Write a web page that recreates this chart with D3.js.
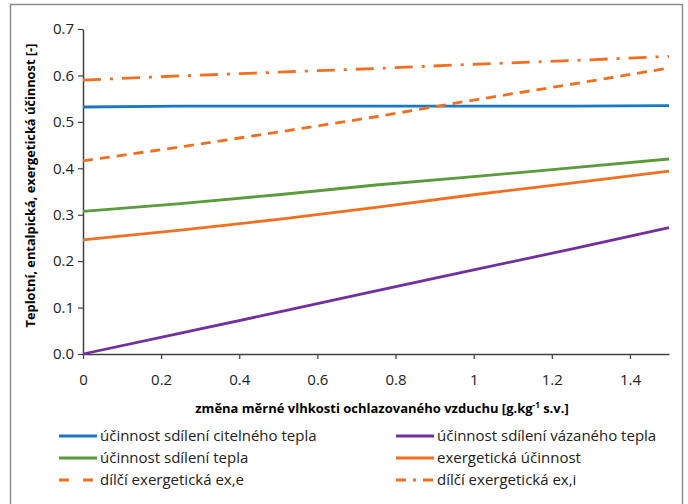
<!DOCTYPE html>
<html>
<head>
<meta charset="utf-8">
<script src="https://cdn.jsdelivr.net/npm/d3@7.9.0/dist/d3.min.js"></script>
<style>
  body { margin: 0; background: #fff; }
  svg { display: block; }
</style>
</head>
<body>
<svg id="chart" width="688" height="504"></svg>
<script>
// data
const xValues = [0, 0.25, 0.5, 0.75, 1.0, 1.25, 1.5];
const citelne = [0.532, 0.534, 0.534, 0.534, 0.534, 0.534, 0.535];
const vazane = [0.000, 0.045, 0.090, 0.136, 0.181, 0.226, 0.272];
const sdileniTepla = [0.307, 0.324, 0.343, 0.364, 0.382, 0.401, 0.420];
const exergeticka = [0.246, 0.267, 0.290, 0.316, 0.343, 0.368, 0.394];
const dilciExE = [0.416, 0.446, 0.478, 0.511, 0.547, 0.581, 0.616];
const dilciExI = [0.590, 0.599, 0.607, 0.615, 0.624, 0.632, 0.641];
const xTicks = [0, 0.2, 0.4, 0.6, 0.8, 1, 1.2, 1.4];
const yTicks = [0, 0.1, 0.2, 0.3, 0.4, 0.5, 0.6, 0.7];

const series = [
  { name: "účinnost sdílení citelného tepla", values: citelne, color: "#1a78c2", dash: null },
  { name: "účinnost sdílení vázaného tepla", values: vazane, color: "#7030a0", dash: null },
  { name: "účinnost sdílení tepla", values: sdileniTepla, color: "#5b9b3e", dash: null },
  { name: "exergetická účinnost", values: exergeticka, color: "#f26f21", dash: null },
  { name: "dílčí exergetická ex,e", values: dilciExE, color: "#f26f21", dash: "10,7" },
  { name: "dílčí exergetická ex,i", values: dilciExI, color: "#f26f21", dash: "18,9,3,9" }
];

const font = "'Open Sans', 'Noto Sans', sans-serif";
const svg = d3.select("#chart");

// outer frame
svg.append("rect")
  .attr("x", 10.5).attr("y", 4.5)
  .attr("width", 672).attr("height", 510)
  .attr("fill", "none")
  .attr("stroke", "#8c8c8c")
  .attr("stroke-width", 1.5);

const margin = { left: 83, top: 29, right: 669, bottom: 354 };

const xScale = d3.scaleLinear().domain([0, 1.5]).range([margin.left, margin.right]);
const yScale = d3.scaleLinear().domain([0, 0.7]).range([margin.bottom, margin.top]);

const xAxis = d3.axisBottom(xScale).tickValues(xTicks).tickSize(5).tickSizeOuter(0)
  .tickFormat(d => d === 0 ? "0" : d3.format("~g")(d));
const yAxis = d3.axisLeft(yScale).tickValues(yTicks).tickSize(5).tickSizeOuter(0)
  .tickFormat(d3.format(".1f"));

const gx = svg.append("g")
  .attr("transform", `translate(0, ${margin.bottom})`)
  .call(xAxis);
gx.select(".domain").attr("stroke", "#404040").attr("stroke-width", 1.5);
gx.selectAll(".tick line").attr("stroke", "#404040").attr("stroke-width", 1.2);
gx.selectAll("text")
  .attr("y", 20)
  .style("font-family", font)
  .style("font-size", "15px")
  .attr("fill", "#222");

const gy = svg.append("g")
  .attr("transform", `translate(${margin.left}, 0)`)
  .call(yAxis);
gy.select(".domain").attr("stroke", "#404040").attr("stroke-width", 1.5);
gy.selectAll(".tick line").attr("stroke", "#404040").attr("stroke-width", 1.2);
gy.selectAll("text")
  .attr("x", -9)
  .style("font-family", font)
  .style("font-size", "15px")
  .attr("fill", "#222");

// lines
const line = d3.line()
  .x((d, i) => xScale(xValues[i]))
  .y(d => yScale(d));

series.forEach(s => {
  svg.append("path")
    .datum(s.values)
    .attr("d", line)
    .attr("fill", "none")
    .attr("stroke", s.color)
    .attr("stroke-width", 2.8)
    .attr("stroke-dasharray", s.dash);
});

// axis titles
svg.append("text")
  .attr("transform", "rotate(-90)")
  .attr("x", -(margin.top + margin.bottom) / 2 + 6)
  .attr("y", 35)
  .attr("text-anchor", "middle")
  .style("font-family", font)
  .style("font-size", "12.8px")
  .style("font-weight", "bold")
  .text("Teplotní, entalpická, exergetická účinnost [-]");

const xTitle = svg.append("text")
  .attr("x", 382)
  .attr("y", 413)
  .attr("text-anchor", "middle")
  .style("font-family", font)
  .style("font-size", "13px")
  .style("font-weight", "bold");
xTitle.append("tspan").text("změna měrné vlhkosti ochlazovaného vzduchu [g.kg");
xTitle.append("tspan").attr("dy", -5).style("font-size", "8px").text("-1");
xTitle.append("tspan").attr("dy", 5).text(" s.v.]");

// legend
const legendCols = [59, 396];
const legendRows = [436, 458, 480];
series.forEach((s, i) => {
  const lx = legendCols[i % 2];
  const ly = legendRows[Math.floor(i / 2)];
  const g = svg.append("g").attr("transform", `translate(${lx}, ${ly})`);
  g.append("line")
    .attr("x1", 0).attr("x2", 38)
    .attr("y1", 0).attr("y2", 0)
    .attr("stroke", s.color)
    .attr("stroke-width", 3)
    .attr("stroke-dasharray", s.dash ? (i === 4 ? "10,14" : "10,7,3,7") : null);
  g.append("text")
    .attr("x", 41)
    .attr("y", 5)
    .style("font-family", font)
    .style("font-size", "15px")
    .attr("fill", "#222")
    .text(s.name);
});
</script>
</body>
</html>
